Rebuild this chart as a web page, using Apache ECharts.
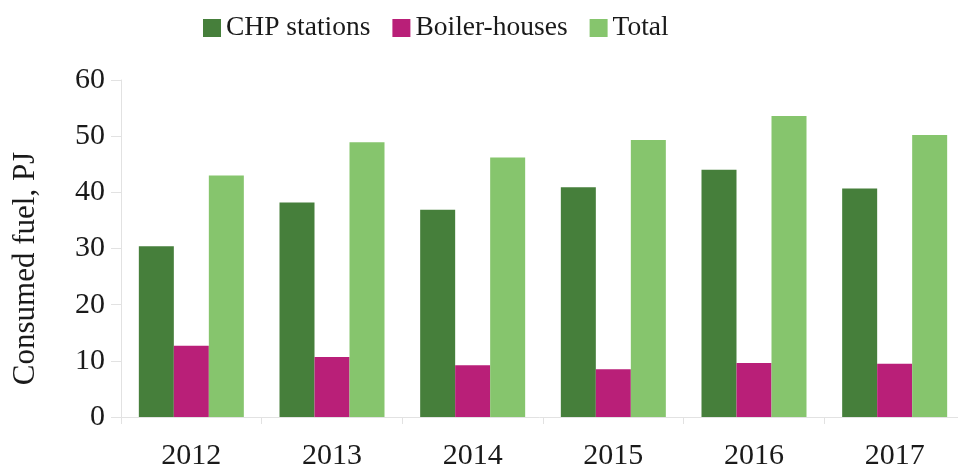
<!DOCTYPE html>
<html>
<head>
<meta charset="utf-8">
<script src="https://cdn.jsdelivr.net/npm/echarts@6/dist/echarts.min.js"></script>
<style>
  html, body { margin: 0; padding: 0; background: #fff; }
  #chart { width: 958px; height: 466px; }
</style>
</head>
<body>
<div id="chart"></div>
<script>
// data
const years = ['2012', '2013', '2014', '2015', '2016', '2017']
const chpStations = [30.4, 38.2, 36.9, 40.9, 44.0, 40.7]
const boilerHouses = [12.7, 10.7, 9.2, 8.5, 9.6, 9.5]
const total = [43.0, 48.9, 46.2, 49.3, 53.6, 50.2]
const yTicks = [0, 10, 20, 30, 40, 50, 60]

const fontFamily = '"Liberation Serif", "DejaVu Serif", serif'

let mychart = echarts.init(document.querySelector('#chart'))
mychart.setOption({
  animation: false,
  color: ['#467f3b', '#b91f78', '#86c56d'],
  textStyle: { fontFamily: fontFamily },
  legend: {
    top: 9,
    left: 198,
    itemWidth: 18,
    itemHeight: 18,
    itemGap: 22,
    icon: 'rect',
    textStyle: { fontFamily: fontFamily, fontSize: 27.5, color: '#1a1a1a' }
  },
  grid: {
    left: 121,
    top: 80,
    width: 844,
    height: 337,
    containLabel: false,
    outerBoundsMode: 'none'
  },
  xAxis: {
    type: 'category',
    data: years,
    axisLine: { lineStyle: { color: '#e2e2e2', width: 1 } },
    axisTick: { show: true, length: 7, lineStyle: { color: '#e2e2e2' } },
    axisLabel: { margin: 24, fontSize: 30, color: '#1a1a1a', fontFamily: fontFamily }
  },
  yAxis: {
    type: 'value',
    min: yTicks[0],
    max: yTicks[yTicks.length - 1],
    interval: 10,
    name: 'Consumed fuel, PJ',
    nameLocation: 'middle',
    nameGap: 80,
    nameTextStyle: { fontSize: 31, color: '#1a1a1a', fontFamily: fontFamily, padding: [0, 40, 0, 0] },
    splitLine: { show: false },
    axisLine: { show: true, lineStyle: { color: '#e2e2e2', width: 1 } },
    axisTick: { show: true, length: 10, lineStyle: { color: '#e2e2e2' } },
    axisLabel: { margin: 16, fontSize: 30, color: '#1a1a1a', fontFamily: fontFamily }
  },
  series: [
    { name: 'CHP stations', type: 'bar', data: chpStations, barWidth: 35, barGap: '0%' },
    { name: 'Boiler-houses', type: 'bar', data: boilerHouses, barWidth: 35, barGap: '0%' },
    { name: 'Total', type: 'bar', data: total, barWidth: 35, barGap: '0%' }
  ]
})
</script>
</body>
</html>
